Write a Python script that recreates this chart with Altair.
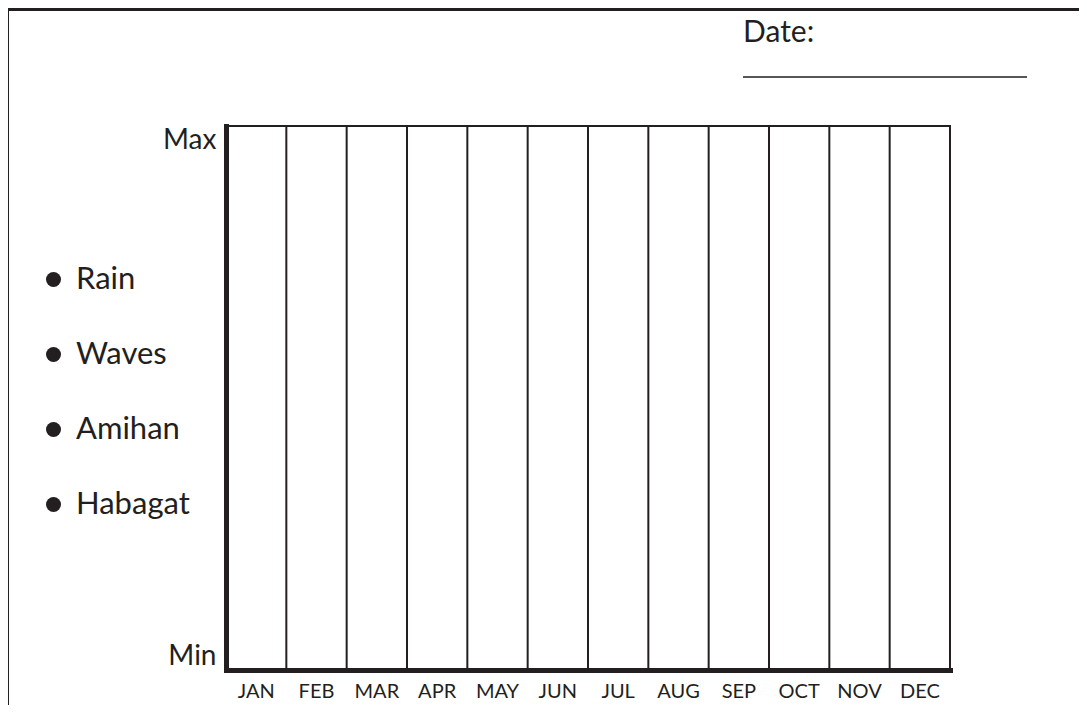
import altair as alt
import pandas as pd

months = ["JAN", "FEB", "MAR", "APR", "MAY", "JUN", "JUL", "AUG", "SEP", "OCT", "NOV", "DEC"]
levels = ["Min", "Max"]
level_pos = [0, 1]
series = ["Rain", "Waves", "Amihan", "Habagat"]
date_label = "Date:"

INK = "#231f20"
FONT = "Lato"

W, H = 724, 544
PAD = {"left": 218, "top": 118, "right": 129, "bottom": 35}

month_df = pd.DataFrame({"month": months})
level_df = pd.DataFrame({"level": levels, "pos": level_pos})
series_df = pd.DataFrame({"series": series})

xscale = alt.Scale(type="band", domain=months, paddingInner=0, paddingOuter=0)

# vertical column separators at each month's band start
columns = alt.Chart(month_df).mark_rule(color=INK, strokeWidth=2).encode(
    x=alt.X("month:N", sort=months, bandPosition=0, scale=xscale,
            axis=alt.Axis(title=None, ticks=False, grid=False, labelAngle=0,
                          labelFont=FONT, labelFontSize=20, labelColor=INK,
                          labelPadding=11, domainColor=INK, domainWidth=5,
                          domainCap="square", zindex=1))
)

label_expr = f"datum.value == 0 ? '{levels[0]}' : '{levels[1]}'"
yaxis = alt.Chart(level_df).mark_point(opacity=0).encode(
    y=alt.Y("pos:Q", scale=alt.Scale(domain=[0, 1], nice=False, zero=False),
            axis=alt.Axis(title=None, values=level_pos, labelExpr=label_expr,
                          ticks=False, tickSize=0, grid=False, labelFlush=True,
                          labelFont=FONT, labelFontSize=28, labelColor=INK,
                          labelPadding=10, domainColor=INK, domainWidth=5,
                          domainCap="square", zindex=1))
)

legend_layer = alt.Chart(series_df).mark_circle(opacity=0).encode(
    color=alt.Color("series:N", sort=series,
                    scale=alt.Scale(domain=series, range=[INK] * len(series)),
                    legend=alt.Legend(title=None, orient="none", legendX=-188, legendY=138,
                                      symbolType="circle", symbolSize=225,
                                      symbolOpacity=1, symbolFillColor=INK,
                                      symbolStrokeWidth=0,
                                      labelFont=FONT, labelFontSize=31, labelColor=INK,
                                      labelOffset=7, rowPadding=43))
)

one = alt.Data(values=[{"t": date_label}])

frame_top = alt.Chart(one).mark_rule(color=INK, strokeWidth=3).encode(
    x=alt.value(-218.5), x2=alt.value(900), y=alt.value(-116.5))
frame_left = alt.Chart(one).mark_rule(color=INK, strokeWidth=3).encode(
    x=alt.value(-218.5), y=alt.value(-116.5), y2=alt.value(620))

date_text = alt.Chart(one).mark_text(align="left", baseline="middle", font=FONT,
                                     fontSize=30, color=INK).encode(
    x=alt.value(517), y=alt.value(-93), text="t:N")
date_line = alt.Chart(one).mark_rule(color=INK, strokeWidth=1.5).encode(
    x=alt.value(517), x2=alt.value(801), y=alt.value(-49))

chart = alt.layer(columns, yaxis, legend_layer, frame_top, frame_left, date_text, date_line).properties(
    width=W, height=H, padding=PAD,
    autosize=alt.AutoSizeParams(type="none"),
    background="white",
).configure_view(stroke=INK, strokeWidth=2)

chart.save("out.html", embed_options={"renderer": "svg", "actions": False})
